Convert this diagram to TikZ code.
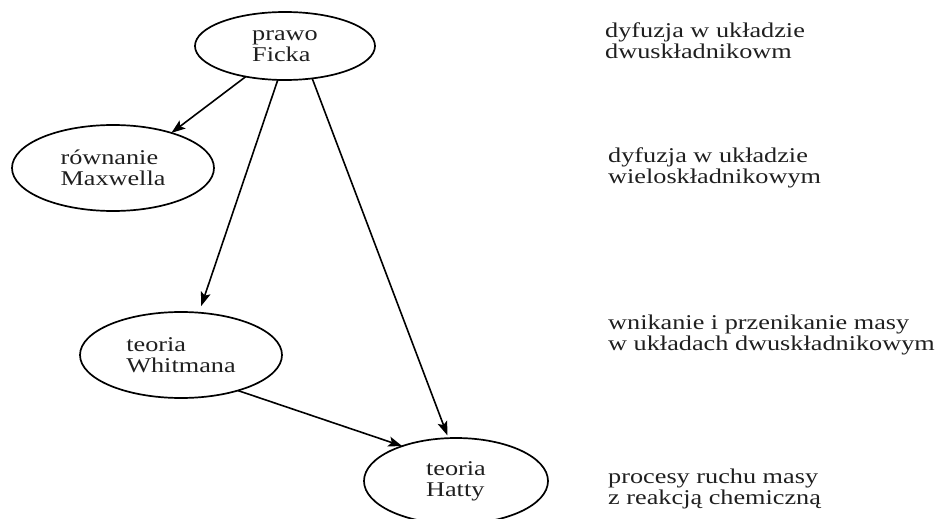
\documentclass[tikz,border=0pt]{standalone}
\usepackage{fontspec}
\setmainfont{Liberation Serif}[FakeStretch=1.25]
\usetikzlibrary{arrows.meta,shapes.geometric}
\begin{document}
\begin{tikzpicture}[x=1pt,y=-1pt,
  every node/.style={font=\fontsize{21}{21}\selectfont, text=black!88},
  bubble/.style={ellipse,draw,line width=1.7pt,inner sep=0pt,outer sep=0pt,align=left},
  note/.style={anchor=base west,inner sep=0pt,align=left},
  link/.style={line width=1.6pt,-{Stealth[length=14pt,width=10pt,inset=3pt]}}]
\useasboundingbox (0,0) rectangle (946,519);
\node[bubble,minimum width=180pt,minimum height=68pt] (ficka) at (285,46) {prawo\\Ficka};
\node[bubble,minimum width=202pt,minimum height=86pt] (maxwell) at (113,168) {równanie\\Maxwella};
\node[bubble,minimum width=202pt,minimum height=86pt] (whitman) at (181,355) {teoria\\Whitmana};
\node[bubble,minimum width=184pt,minimum height=86pt] (hatty) at (456,481) {teoria\\Hatty};
\draw[link] (ficka.218) -- (maxwell.31);
\draw[link,shorten >=7pt] (ficka.258) -- (whitman.67);
\draw[link,shorten >=3pt] (ficka.310) -- (hatty.100);
\draw[link] (whitman.328) -- (hatty.147);
\node[note] (t1) at (605,59) {dyfuzja w układzie\\dwuskładnikowm};
\node[note] (t2) at (608,183) {dyfuzja w układzie\\wieloskładnikowym};
\node[note] (t3) at (608,350) {wnikanie i przenikanie masy\\w układach dwuskładnikowym};
\node[note] (t4) at (608,504) {procesy ruchu masy\\z reakcją chemiczną};
\end{tikzpicture}
\end{document}
